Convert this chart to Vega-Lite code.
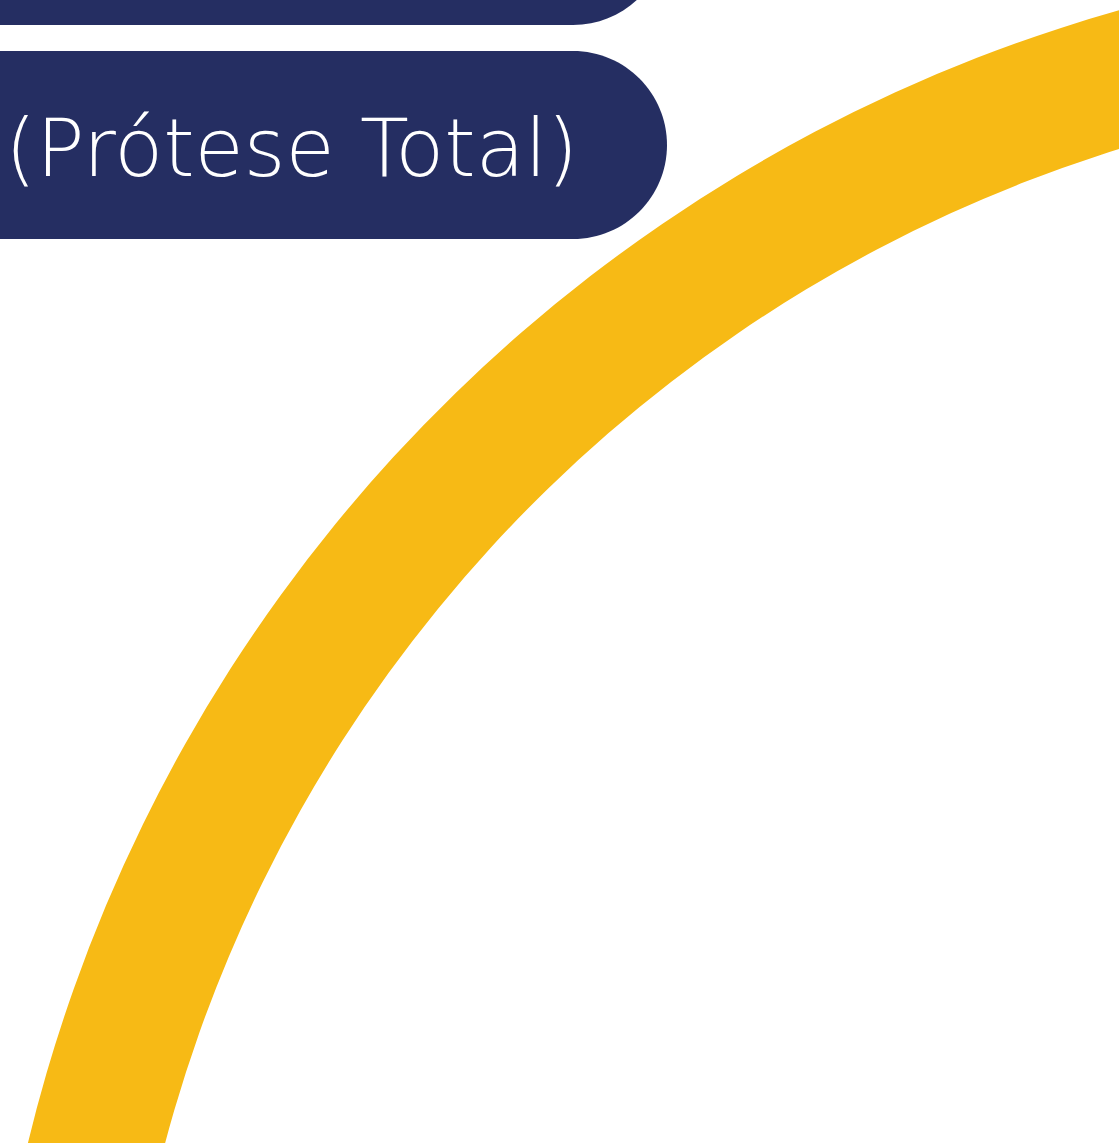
{
  "$schema": "https://vega.github.io/schema/vega-lite/v6.json",
  "width": 1119,
  "height": 1143,
  "padding": 0,
  "autosize": "none",
  "background": "white",
  "config": {"view": {"stroke": null}},
  "datasets": {
    "ring": [{"cx": 1541.3, "cy": 1509, "t1": -100, "t2": 5, "r_out": 1557, "r_in": 1424}],
    "bars": [
      {"name": "top", "x0": -20, "x1": 667, "y0": -163, "y1": 25},
      {"name": "label", "x0": -20, "x1": 667, "y0": 51, "y1": 239}
    ],
    "labels": [{"text": "(Prótese Total)", "x": 5, "y": 176}]
  },
  "layer": [
    {
      "data": {"name": "ring"},
      "mark": {"type": "arc", "color": "#F7BA15", "clip": true},
      "encoding": {
        "x": {"field": "cx", "type": "quantitative", "scale": {"domain": [0, 1119]}, "axis": null},
        "y": {"field": "cy", "type": "quantitative", "scale": {"domain": [0, 1143], "reverse": true}, "axis": null},
        "theta": {"field": "t1", "type": "quantitative", "stack": null, "scale": {"type": "linear", "domain": [-180, 180], "range": [-3.141592653589793, 3.141592653589793]}},
        "theta2": {"field": "t2"},
        "radius": {"field": "r_out", "type": "quantitative", "scale": {"type": "linear", "domain": [0, 1557], "range": [0, 1557], "zero": true}},
        "radius2": {"field": "r_in"}
      }
    },
    {
      "data": {"name": "bars"},
      "mark": {"type": "rect", "color": "#252E62", "clip": true, "cornerRadiusTopRight": 94, "cornerRadiusBottomRight": 94},
      "encoding": {
        "x": {"field": "x0", "type": "quantitative", "scale": {"domain": [0, 1119]}, "axis": null},
        "x2": {"field": "x1"},
        "y": {"field": "y0", "type": "quantitative", "scale": {"domain": [0, 1143], "reverse": true}, "axis": null},
        "y2": {"field": "y1"}
      }
    },
    {
      "data": {"name": "labels"},
      "mark": {"type": "text", "color": "white", "font": "DejaVu Sans", "fontWeight": 300, "fontSize": 80, "align": "left", "baseline": "alphabetic"},
      "encoding": {
        "x": {"field": "x", "type": "quantitative", "scale": {"domain": [0, 1119]}, "axis": null},
        "y": {"field": "y", "type": "quantitative", "scale": {"domain": [0, 1143], "reverse": true}, "axis": null},
        "text": {"field": "text"}
      }
    }
  ]
}
